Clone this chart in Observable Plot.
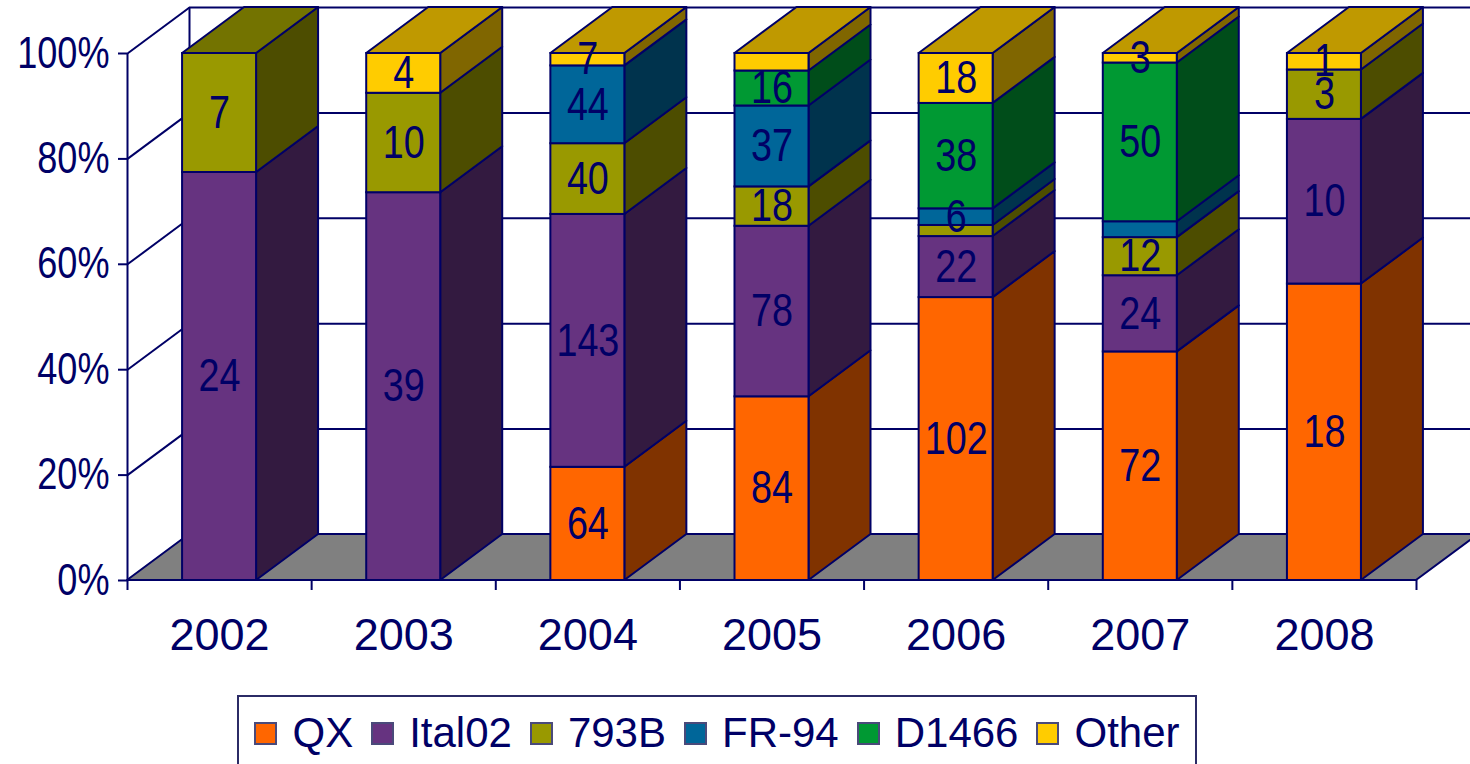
<!DOCTYPE html>
<html>
<head>
<meta charset="utf-8">
<script src="https://cdn.jsdelivr.net/npm/d3@7"></script>
<script src="https://cdn.jsdelivr.net/npm/@observablehq/plot@0.6"></script>
<style>
  body { margin: 0; background: #fff; }
  #wrap { position: relative; width: 1470px; height: 764px; overflow: hidden; }
  #legend {
    position: absolute; left: 237px; top: 695px; width: 960px; height: 76px;
    border: 2px solid #2b2b66; box-sizing: border-box;
    display: flex; align-items: center; justify-content: center;
    font-family: "Liberation Sans", Arial, sans-serif; font-size: 42px; color: #000066;
    white-space: nowrap;
  }
  #legend .item { display: flex; align-items: center; margin: 0 9px; }
  #legend .sw { width: 19px; height: 19px; border: 2px solid #4a4a7a; margin-right: 15px; flex: none; }
</style>
</head>
<body>
<div id="wrap">
  <div id="chart"></div>
  <div id="legend"></div>
</div>
<script>
// ---- data ----
const years = ["2002", "2003", "2004", "2005", "2006", "2007", "2008"];
const seriesNames = ["QX", "Ital02", "793B", "FR-94", "D1466", "Other"];
const qx     = [0, 0, 64, 84, 102, 72, 18];
const ital02 = [24, 39, 143, 78, 22, 24, 10];
const b793   = [7, 10, 40, 18, 4, 12, 3];
const fr94   = [0, 0, 44, 37, 6, 5, 0];
const d1466  = [0, 0, 0, 16, 38, 50, 0];
const other  = [0, 4, 7, 8, 18, 3, 1];
const unlabelled = ["2005 Other", "2006 793B", "2007 FR-94"];
const yTicks = [0, 20, 40, 60, 80, 100];
const frontColors = ["#ff6600", "#663380", "#999900", "#006699", "#009933", "#ffcc00"];

// ---- layout ----
const NAVY = "#000066";
const FONT = "'Liberation Sans', Arial, sans-serif";
const CONDENSE = 0.82;
const W = 1470, H = 692, ML = 127, MR = 54, MT = 53, MB = 112;
const n = years.length;
const pxX = (W - ML - MR) / n;
const pxY = (H - MT - MB) / 100;
const DX = 62 / pxX, DY = 46 / pxY, HALF = 37 / pxX;

const counts = [qx, ital02, b793, fr94, d1466, other];
const segs = [];
years.forEach((yr, i) => {
  const total = d3.sum(counts, c => c[i]);
  let cum = 0;
  counts.forEach((c, s) => {
    const v = c[i];
    if (!v) return;
    segs.push({year: yr, i, s, series: seriesNames[s], count: v,
      lo: cum / total * 100, hi: (cum + v) / total * 100, xl: i - HALF, xr: i + HALF});
    cum += v;
  });
});
const shade = (c, k) => d3.interpolateRgb(c, "#000")(k);
const tops = years.map((_, i) => segs.filter(d => d.i === i).at(-1));
const sideData = segs.flatMap((d, k) => {
  const f = shade(frontColors[d.s], 0.5);
  return [
    {id: k, x: d.xr, y1: d.lo, y2: d.hi, fill: f},
    {id: k, x: d.xr + DX, y1: d.lo + DY, y2: d.hi + DY, fill: f}
  ];
});
const topData = tops.flatMap((d, k) => {
  const f = shade(frontColors[d.s], 0.25);
  return [
    {id: k, y: d.hi, x1: d.xl, x2: d.xr, fill: f},
    {id: k, y: d.hi + DY, x1: d.xl + DX, x2: d.xr + DX, fill: f}
  ];
});
const floor = [
  {y: 0, x1: -0.5, x2: n - 0.5},
  {y: DY, x1: -0.5 + DX, x2: n - 0.5 + DX}
];
const labelled = segs.filter(d => !unlabelled.includes(d.year + " " + d.series));
const boundaries = d3.range(n + 1).map(k => k - 0.5);

const chart = Plot.plot({
  width: W, height: H,
  marginLeft: ML, marginRight: MR, marginTop: MT, marginBottom: MB,
  x: {type: "linear", domain: [-0.5, n - 0.5]},
  y: {domain: [0, 100]},
  color: {type: "identity"},
  style: {fontFamily: FONT, color: NAVY, background: "white", overflow: "visible"},
  marks: [
    Plot.ruleY(yTicks, {y: d => d + DY, x1: -0.5 + DX, x2: n - 0.5 + DX, stroke: NAVY, strokeWidth: 2}),
    Plot.link(yTicks, {x1: -0.5, x2: -0.5 + DX, y1: d => d, y2: d => d + DY, stroke: NAVY, strokeWidth: 2}),
    Plot.ruleX([-0.5 + DX], {y1: DY, y2: 100 + DY, stroke: NAVY, strokeWidth: 2}),
    Plot.areaX(floor, {y: "y", x1: "x1", x2: "x2", fill: "#808080", stroke: NAVY, strokeWidth: 2, strokeLinejoin: "round"}),
    Plot.ruleX([-0.5], {y1: 0, y2: 100, stroke: NAVY, strokeWidth: 2}),
    Plot.areaY(sideData, {x: "x", y1: "y1", y2: "y2", z: "id", fill: "fill", stroke: NAVY, strokeWidth: 2, strokeLinejoin: "round"}),
    Plot.areaX(topData, {y: "y", x1: "x1", x2: "x2", z: "id", fill: "fill", stroke: NAVY, strokeWidth: 2, strokeLinejoin: "round"}),
    Plot.rect(segs, {x1: "xl", x2: "xr", y1: "lo", y2: "hi", fill: d => frontColors[d.s], stroke: NAVY, strokeWidth: 2}),
    Plot.text(labelled, {x: "i", y: d => (d.lo + d.hi) / 2, text: d => String(d.count), fontSize: 46, fill: NAVY}),
    Plot.axisY({ticks: yTicks, tickFormat: d => d + "%", tickSize: 9, tickPadding: 9, fontSize: 44, strokeWidth: 2, label: null}),
    Plot.axisX({ticks: boundaries, tickSize: 10, tickFormat: () => "", strokeWidth: 2, label: null}),
    Plot.axisX({ticks: d3.range(n), tickSize: 0, tickPadding: 38, tickFormat: i => years[i], fontSize: 45, label: null})
  ]
});
document.getElementById("chart").appendChild(chart);

// narrow the bar labels and percent labels (the source uses a condensed face)
d3.select(chart)
  .selectAll('g[aria-label="text"] text, g[aria-label="y-axis tick label"] text')
  .each(function () {
    try {
      const len = this.getComputedTextLength();
      if (len > 0) {
        this.setAttribute("textLength", (len * CONDENSE).toFixed(2));
        this.setAttribute("lengthAdjust", "spacingAndGlyphs");
      }
    } catch (e) { /* leave as is */ }
  });

const legend = document.getElementById("legend");
seriesNames.forEach((name, s) => {
  const item = document.createElement("div");
  item.className = "item";
  const sw = document.createElement("div");
  sw.className = "sw";
  sw.style.background = frontColors[s];
  const label = document.createElement("span");
  label.textContent = name;
  item.appendChild(sw);
  item.appendChild(label);
  legend.appendChild(item);
});
</script>
</body>
</html>
